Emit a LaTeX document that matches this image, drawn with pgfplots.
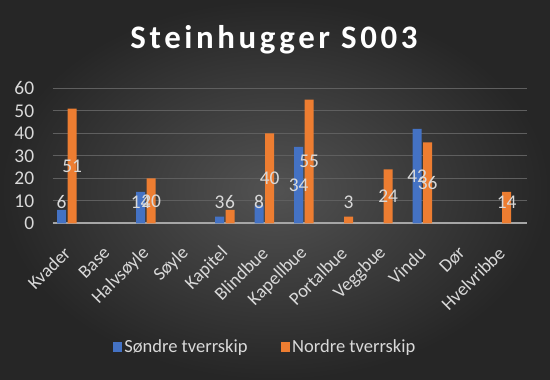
\documentclass[border=0pt]{standalone}
\usepackage{pgfplots}
\pgfplotsset{compat=1.18}
\usepackage{fontspec}
\setmainfont{Carlito}
\definecolor{sblue}{RGB}{68,114,196}
\definecolor{norange}{RGB}{237,125,49}
\definecolor{lbl}{RGB}{217,217,217}
\definecolor{bgin}{RGB}{82,82,82}
\definecolor{bgout}{RGB}{38,38,38}
\definecolor{gridc}{RGB}{95,95,95}
\definecolor{zeroc}{RGB}{166,166,166}
\begin{document}
\begin{tikzpicture}
\shade[inner color=bgin, outer color=bgout] (0bp,0bp) rectangle (550bp,380bp);
\path[use as bounding box] (0bp,0bp) rectangle (550bp,380bp);
\node[anchor=base, text=white, font=\fontsize{33}{38}\selectfont\bfseries\addfontfeatures{LetterSpace=11}] at (274bp,331bp) {Steinhugger S003};
\begin{axis}[
  at={(52.7bp,156.7bp)}, anchor=south west,
  scale only axis, width=474bp, height=135bp,
  xmin=-0.36, xmax=11.64, ymin=0, ymax=60,
  ytick={0,10,...,60},
  xtick={0,...,11},
  xticklabels={Kvader,Base,Halvsøyle,Søyle,Kapitel,Blindbue,Kapellbue,Portalbue,Veggbue,Vindu,Dør,Hvelvribbe},
  xticklabel style={xshift=1bp, yshift=-26bp, rotate=45, anchor=east, text=lbl, font=\fontsize{18.6}{20}\selectfont, inner sep=1bp},
  yticklabel style={text=lbl, font=\fontsize{19.5}{21}\selectfont, xshift=-15bp},
  /pgf/number format/assume math mode=true,
  major tick length=0pt,
  axis line style={draw=none},
  ymajorgrids, grid style={gridc, line width=0.8bp},
  extra y ticks={0}, extra y tick labels={},
  extra y tick style={grid style={zeroc, line width=1.6bp}},
  ybar=1.5bp, bar width=9bp,
  nodes near coords,
  visualization depends on={max(rawy/2,9.5)-rawy \as \dy},
  every node near coord/.append style={anchor=center, text=lbl, font=\fontsize{19.5}{21}\selectfont, shift={(axis direction cs:0,\dy)}},
  legend style={at={(0.448,-0.916)}, anchor=center, draw=none, fill=none, text=lbl, font=\fontsize{18.6}{20}\selectfont, legend columns=2, /tikz/every even column/.append style={column sep=31bp}},
  clip=false,
]
\addplot[fill=sblue, draw=none, legend image code/.code={\fill[sblue] (0bp,-4.8bp) rectangle (9.5bp,4.8bp);}] coordinates {(0,6) (2,14) (4,3) (5,8) (6,34) (9,42)};
\addlegendentry{Søndre tverrskip}
\addplot[fill=norange, draw=none, legend image code/.code={\fill[norange] (0bp,-4.8bp) rectangle (9.5bp,4.8bp);}] coordinates {(0,51) (2,20) (4,6) (5,40) (6,55) (7,3) (8,24) (9,36) (11,14)};
\addlegendentry{Nordre tverrskip}
\end{axis}
\end{tikzpicture}
\end{document}
